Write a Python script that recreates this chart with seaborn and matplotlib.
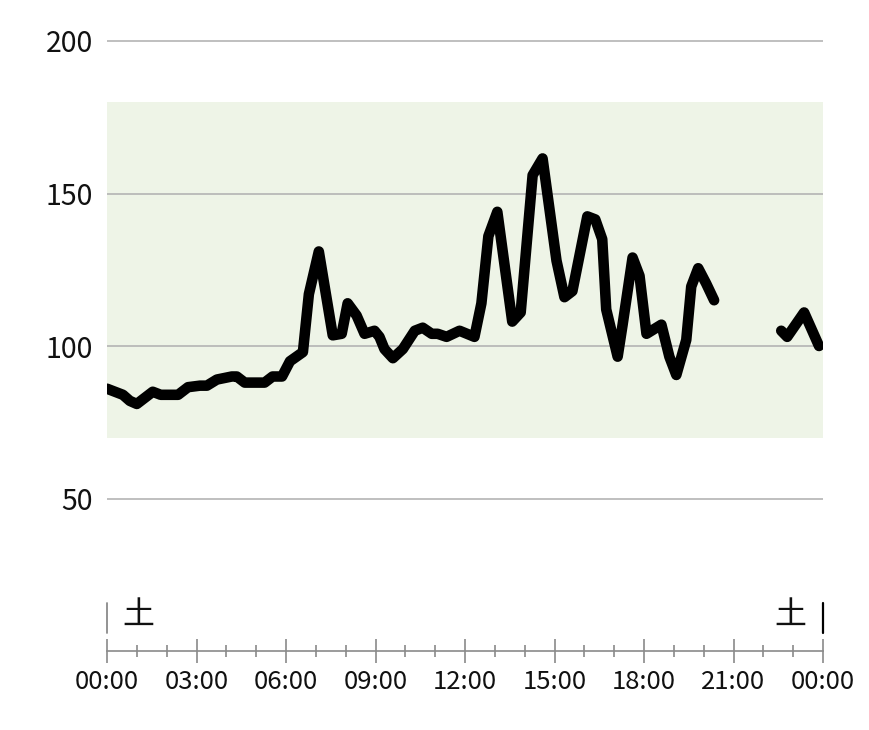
import pandas as pd
import seaborn as sns
import matplotlib.pyplot as plt

# readings (time of day, value); second segment after the gap
times_1 = ['00:00', '00:16', '00:32', '00:46', '01:00', '01:32', '01:48', '02:23', '02:43',
           '03:07', '03:21', '03:41', '04:11', '04:21', '04:37', '05:17', '05:33', '05:52',
           '06:08', '06:34', '06:46', '07:06', '07:34', '07:52', '08:04', '08:22', '08:38',
           '08:58', '09:08', '09:18', '09:35', '09:55', '10:19', '10:35', '10:53', '11:05',
           '11:23', '11:49', '12:19', '12:33', '12:47', '13:05', '13:35', '13:52', '14:16',
           '14:36', '15:04', '15:20', '15:36', '16:06', '16:22', '16:36', '16:44', '17:07',
           '17:17', '17:37', '17:51', '18:05', '18:35', '18:51', '19:05', '19:25', '19:35',
           '19:49', '20:05', '20:21']
values_1 = [86, 85, 84, 82, 81, 85, 84, 84, 86.5,
            87, 87, 89, 90, 90, 88, 88, 90, 90,
            95, 98, 117, 131, 103.5, 104, 114, 110, 104,
            105, 103, 99, 96, 99, 105, 106, 104, 104,
            103, 105, 103, 114, 136, 144, 108, 111, 156,
            161.5, 128, 116, 118, 142.5, 141.5, 135, 112, 96.5,
            107, 129, 123, 104, 107, 96.5, 90.5, 102, 119.5,
            125.5, 120.5, 115]
times_2 = ['22:36', '22:48', '23:22', '23:52']
values_2 = [105, 103, 111, 100]

yticks = [50, 100, 150, 200]
target_low, target_high = 70, 180
xtick_pos = [0, 3, 6, 9, 12, 15, 18, 21, 24]
xtick_labels = ['00:00', '03:00', '06:00', '09:00', '12:00', '15:00', '18:00', '21:00', '00:00']
day_label = '土'


def to_hours(t):
    h, m = t.split(':')
    return int(h) + int(m) / 60


df = pd.DataFrame({
    'hour': [to_hours(t) for t in times_1 + times_2],
    'value': values_1 + values_2,
    'seg': [1] * len(times_1) + [2] * len(times_2),
})

sns.set_style('white')
plt.rcParams['font.family'] = ['Noto Sans CJK JP', 'DejaVu Sans']

fig = plt.figure(figsize=(8.7, 7.3), dpi=100)
ax = fig.add_axes([107 / 870, 79 / 730, 716 / 870, 640.5 / 730])

# target range band + grid
ax.axhspan(target_low, target_high, color='#eef4e7', zorder=0, lw=0)
for v in yticks:
    ax.axhline(v, color='#b4b4b4', lw=1.2, zorder=0.5)

sns.lineplot(data=df, x='hour', y='value', units='seg', estimator=None, color='black',
             lw=7.6, solid_capstyle='round', solid_joinstyle='round', ax=ax, zorder=3)

ax.set_xlim(0, 24)
ax.set_ylim(0, 210)
ax.set_xlabel('')
ax.set_ylabel('')

ax.set_yticks(yticks)
ax.set_yticklabels([str(v) for v in yticks], fontsize=20.5, color='#111111')
ax.tick_params(axis='y', length=0, pad=10)

ax.set_xticks(xtick_pos)
ax.set_xticklabels(xtick_labels, fontsize=18.5, color='#111111')
ax.set_xticks(range(25), minor=True)
ax.tick_params(axis='x', which='both', bottom=True)
ax.tick_params(axis='x', which='major', direction='inout', length=17, width=1.2,
               color='#8a8a8a', pad=4.5)
ax.tick_params(axis='x', which='minor', direction='inout', length=9, width=1.2,
               color='#8a8a8a')

for s in ['top', 'left', 'right']:
    ax.spines[s].set_visible(False)
ax.spines['bottom'].set_color('#8a8a8a')
ax.spines['bottom'].set_linewidth(1.2)

# day markers
ax.plot([0, 0], [5.9, 15.8], color='#8a8a8a', lw=1.3, clip_on=False)
ax.plot([24, 24], [5.9, 15.8], color='black', lw=1.6, clip_on=False)
ax.text(1.04, 12, day_label, fontsize=23, ha='center', va='center', color='#111111')
ax.text(22.9, 12, day_label, fontsize=23, ha='center', va='center', color='#111111')

fig.savefig('out.png', dpi=100)
